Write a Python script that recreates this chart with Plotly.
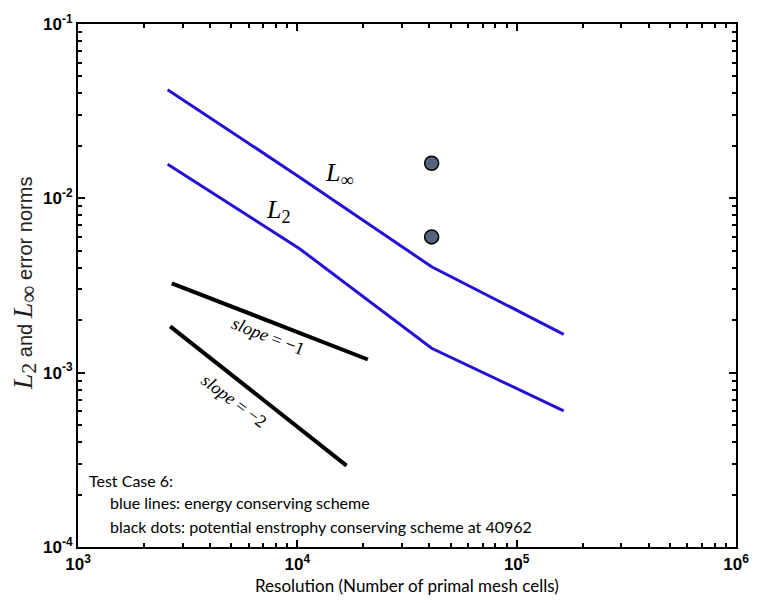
import plotly.graph_objects as go

# ---- data ----
resolution = [2562, 10242, 40962, 163842]
l_inf = [0.0420, 0.01323, 0.00405, 0.00166]
l_2 = [0.01570, 0.00514, 0.00138, 0.000604]

dots_x = [40962, 40962]
dots_y = [0.0159, 0.00601]

slope1_x = [2676, 20965]
slope1_y = [0.003257, 0.00119]
slope2_x = [2632, 16760]
slope2_y = [0.001844, 0.000293]

x_tickvals = [1e3, 1e4, 1e5, 1e6]
x_ticktext = ["<b>10<sup>3</sup></b>", "<b>10<sup>4</sup></b>", "<b>10<sup>5</sup></b>", "<b>10<sup>6</sup></b>"]
y_tickvals = [1e-4, 1e-3, 1e-2, 1e-1]
y_ticktext = ["<b>10<sup>-4</sup></b>", "<b>10<sup>-3</sup></b>", "<b>10<sup>-2</sup></b>", "<b>10<sup>-1</sup></b>"]
x_minor = [m * 10 ** e for e in (3, 4, 5) for m in range(2, 10)]
y_minor = [m * 10.0 ** e for e in (-4, -3, -2) for m in range(2, 10)]

BLUE = "#2410d4"
SERIF = "Liberation Serif"

fig = go.Figure()
fig.add_trace(go.Scatter(x=resolution, y=l_inf, mode="lines",
                         line=dict(color=BLUE, width=3), showlegend=False))
fig.add_trace(go.Scatter(x=resolution, y=l_2, mode="lines",
                         line=dict(color=BLUE, width=3), showlegend=False))
fig.add_trace(go.Scatter(x=slope1_x, y=slope1_y, mode="lines",
                         line=dict(color="black", width=4), showlegend=False))
fig.add_trace(go.Scatter(x=slope2_x, y=slope2_y, mode="lines",
                         line=dict(color="black", width=4), showlegend=False))
fig.add_trace(go.Scatter(x=dots_x, y=dots_y, mode="markers",
                         marker=dict(size=14, color="#56637f",
                                     line=dict(color="black", width=1.5)),
                         showlegend=False))
# invisible traces that anchor the tick-only axes
for xa, ya in (("x2", "y2"), ("x3", "y3"), ("x4", "y4")):
    fig.add_trace(go.Scatter(x=[1e3], y=[1e-4], xaxis=xa, yaxis=ya, mode="markers",
                             marker=dict(opacity=0), hoverinfo="skip", showlegend=False))

tickfont = dict(family="Liberation Sans", size=17, color="black")
base = dict(type="log", showgrid=False, zeroline=False, ticks="inside",
            tickcolor="black", tickwidth=1.5)

layout = dict(
    xaxis=dict(**base, range=[3, 6], tickmode="array", tickvals=x_tickvals, ticktext=x_ticktext,
               ticklen=7, tickfont=tickfont, showline=True, linecolor="black", linewidth=2,
               mirror=True, side="bottom", anchor="y", ticklabelstandoff=1),
    yaxis=dict(**base, range=[-4, -1], tickmode="array", tickvals=y_tickvals, ticktext=y_ticktext,
               ticklen=7, tickfont=tickfont, showline=True, linecolor="black", linewidth=2,
               mirror=True, side="left", anchor="x"),
    xaxis2=dict(**base, range=[3, 6], tickmode="array", tickvals=x_minor, ticklen=4,
                showticklabels=False, overlaying="x", side="bottom", anchor="y2"),
    yaxis2=dict(**base, range=[-4, -1], tickmode="array", tickvals=y_minor, ticklen=4,
                showticklabels=False, overlaying="y", side="left", anchor="x2"),
    xaxis3=dict(**base, range=[3, 6], tickmode="array", tickvals=x_tickvals, ticklen=7,
                showticklabels=False, overlaying="x", side="top", anchor="y3"),
    yaxis3=dict(**base, range=[-4, -1], tickmode="array", tickvals=y_tickvals, ticklen=7,
                showticklabels=False, overlaying="y", side="right", anchor="x3"),
    xaxis4=dict(**base, range=[3, 6], tickmode="array", tickvals=x_minor, ticklen=4,
                showticklabels=False, overlaying="x", side="top", anchor="y4"),
    yaxis4=dict(**base, range=[-4, -1], tickmode="array", tickvals=y_minor, ticklen=4,
                showticklabels=False, overlaying="y", side="right", anchor="x4"),
)

ann = []
ann.append(dict(x=4.19, y=-1.861, xref="x", yref="y", showarrow=False,
                text="<i>L</i><sub>∞</sub>",
                font=dict(family=SERIF, size=26, color="black")))
ann.append(dict(x=3.915, y=-2.075, xref="x", yref="y", showarrow=False,
                text="<i>L</i><sub>2</sub>",
                font=dict(family=SERIF, size=26, color="black")))
ann.append(dict(x=3.865, y=-2.791, xref="x", yref="y", showarrow=False,
                text="<i>slope</i> = −1", textangle=21,
                font=dict(family=SERIF, size=18, color="black")))
ann.append(dict(x=3.713, y=-3.162, xref="x", yref="y", showarrow=False,
                text="<i>slope</i> = −2", textangle=37,
                font=dict(family=SERIF, size=18, color="black")))
info_font = dict(family="Lato", size=16, color="black")
ann.append(dict(x=0.0135, y=0.1274, xref="paper", yref="paper", xanchor="left", yanchor="middle",
                showarrow=False, text="Test Case 6:", font=info_font))
ann.append(dict(x=0.045, y=0.0856, xref="paper", yref="paper", xanchor="left", yanchor="middle",
                showarrow=False, text="blue lines: energy conserving scheme", font=info_font))
ann.append(dict(x=0.045, y=0.040, xref="paper", yref="paper", xanchor="left", yanchor="middle",
                showarrow=False, text="black dots: potential enstrophy conserving scheme at 40962",
                font=info_font))
ann.append(dict(x=0.5, y=-0.0745, xref="paper", yref="paper", yanchor="middle",
                showarrow=False, text="Resolution (Number of primal mesh cells)",
                font=dict(family="Lato", size=17, color="black")))
LSPAN = "<span style='font-family:Liberation Serif;font-size:28px'><i>L</i></span>"
ann.append(dict(x=-0.083, y=0.505, xref="paper", yref="paper", textangle=-90,
                xanchor="center", yanchor="middle", showarrow=False,
                text=(LSPAN + "<sub><span style='font-family:Liberation Serif;font-size:22px'>2</span></sub> and "
                      + LSPAN + "<sub><span style='font-family:Liberation Serif;font-size:24px'>∞</span></sub> error norms"),
                font=dict(family="Liberation Sans", size=20, color="#222222")))

fig.update_layout(
    width=761, height=603,
    margin=dict(l=78, r=14, t=21, b=56),
    paper_bgcolor="white", plot_bgcolor="white",
    annotations=ann,
    **layout,
)

fig.write_html("out.html")
